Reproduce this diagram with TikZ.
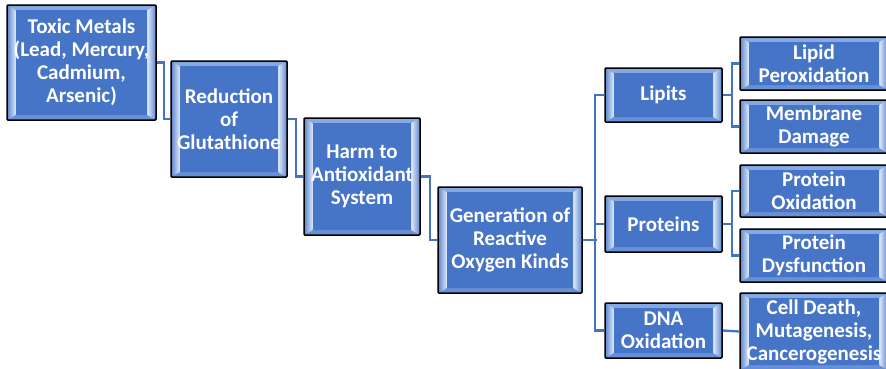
\documentclass[tikz,border=0pt]{standalone}
\usepackage{fontspec}
\setmainfont{Carlito}
\usetikzlibrary{calc}
\definecolor{lineblue}{HTML}{4472C4}
\definecolor{innerblue}{HTML}{4674C6}
\definecolor{bevtop}{HTML}{86A8E3}
\definecolor{bevbot}{HTML}{6890D6}
\definecolor{bevout}{HTML}{5A84CE}
\definecolor{bevhi}{HTML}{E4EDFB}
\tikzset{
  box/.style={draw=black, line width=1.5pt, rounded corners=1pt, inner sep=0pt,
    text=white, font=\bfseries\fontsize{21}{23}\selectfont, align=center,
    fill=innerblue,
    path picture={
      \coordinate (iNW) at ([shift={(9pt,-5pt)}]path picture bounding box.north west);
      \coordinate (iNE) at ([shift={(-9pt,-5pt)}]path picture bounding box.north east);
      \coordinate (iSW) at ([shift={(9pt,5pt)}]path picture bounding box.south west);
      \coordinate (iSE) at ([shift={(-9pt,5pt)}]path picture bounding box.south east);
      \fill[bevtop] (path picture bounding box.north west) -- (path picture bounding box.north east) -- (iNE) -- (iNW) -- cycle;
      \fill[bevbot] (path picture bounding box.south west) -- (path picture bounding box.south east) -- (iSE) -- (iSW) -- cycle;
      \shade[left color=bevout, right color=bevhi] (path picture bounding box.north west) -- (iNW) -- (iSW) -- (path picture bounding box.south west) -- cycle;
      \shade[left color=bevhi, right color=bevout] (path picture bounding box.north east) -- (iNE) -- (iSE) -- (path picture bounding box.south east) -- cycle;
      \fill[innerblue] (iNW) rectangle (iSE);
    }},
  link/.style={draw=lineblue, line width=2.3pt}
}
\begin{document}
\begin{tikzpicture}[x=1pt,y=-1pt]
\useasboundingbox (0,0) rectangle (886,368);
\clip (0,0) rectangle (886,368);
\fill[white] (0,0) rectangle (886,368);

\node[box, minimum width=149pt, minimum height=115pt] (b1) at (81.5,62.5) {Toxic Metals\\(Lead, Mercury,\\Cadmium,\\Arsenic)};
\node[box, minimum width=116pt, minimum height=116pt] (b2) at (229,119) {Reduction\\of\\Glutathione};
\node[box, minimum width=116pt, minimum height=117pt] (b3) at (362,176.5) {Harm to\\Antioxidant\\System};
\node[box, minimum width=144pt, minimum height=106pt] (b4) at (510,240) {Generation of\\Reactive\\Oxygen Kinds};

\node[box, minimum width=117pt, minimum height=54pt] (lip) at (663.5,95) {Lipits};
\node[box, minimum width=117pt, minimum height=56pt] (pro) at (663.5,224) {Proteins};
\node[box, minimum width=117pt, minimum height=55pt] (dna) at (663.5,330.5) {DNA\\Oxidation};

\node[box, minimum width=148pt, minimum height=53pt] (lp) at (814,63.5) {Lipid\\Peroxidation};
\node[box, minimum width=148pt, minimum height=53pt] (md) at (814,126.5) {Membrane\\Damage};
\node[box, minimum width=148pt, minimum height=52pt] (po) at (814,191) {Protein\\Oxidation};
\node[box, minimum width=148pt, minimum height=53pt] (pd) at (814,255.5) {Protein\\Dysfunction};
\node[box, minimum width=148pt, minimum height=77pt] (cd) at (814,331.5) {Cell Death,\\Mutagenesis,\\Cancerogenesis};

\draw[link] (b1.east) -- ++(7.5,0) |- (b2.west);
\draw[link] (b2.east) -- ++(8.5,0) |- (b3.west);
\draw[link] (b3.east) -- ++(9,0) |- (b4.west);
\draw[link] (b4.east) -- ++(14,0) coordinate (trunk);
\draw[link] (lip.west) -- ++(-9,0) |- (dna.west);
\draw[link] (pro.west) -- ++(-9,0);
\draw[link] (lip.east) -- ++(9,0) coordinate (lj);
\draw[link] (lp.west) -| (lj) |- (md.west);
\draw[link] (pro.east) -- ++(9,0) coordinate (pj);
\draw[link] (po.west) -| (pj) |- (pd.west);
\draw[link] (dna.east) -- (cd.west);
\end{tikzpicture}
\end{document}
